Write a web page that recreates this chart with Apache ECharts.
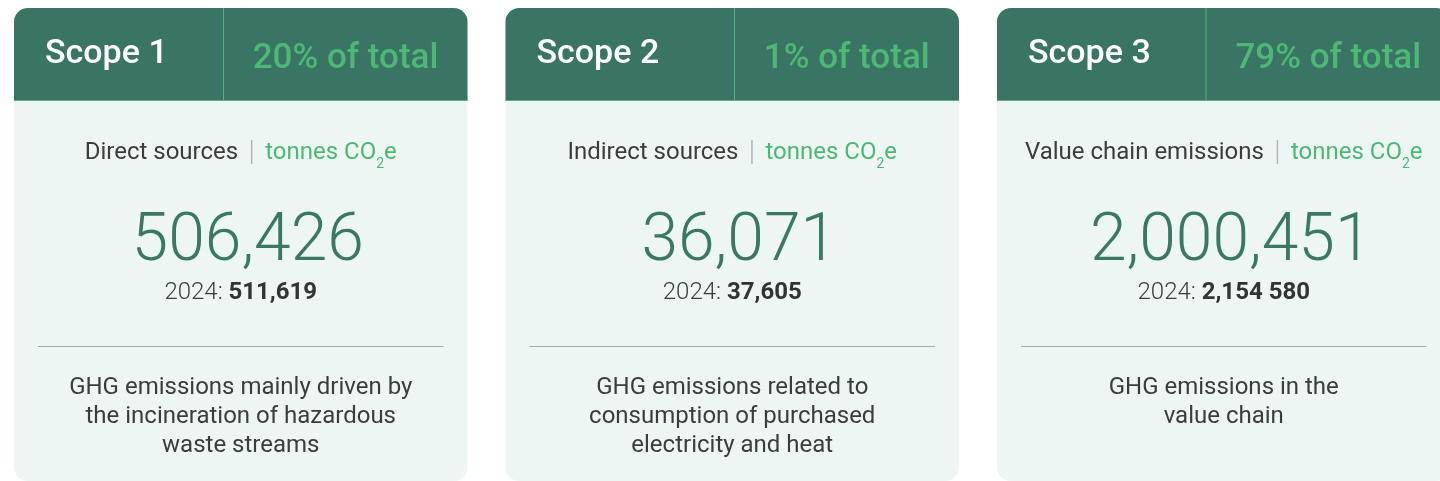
<!DOCTYPE html>
<html>
<head>
<meta charset="utf-8">
<script src="https://cdn.jsdelivr.net/npm/echarts@6/dist/echarts.min.js"></script>
<style>
  html, body { margin: 0; padding: 0; background: #fff; }
  #chart { width: 1440px; height: 481px; }
</style>
</head>
<body>
<div id="chart"></div>
<script>
  const scopeNames = ['Scope 1', 'Scope 2', 'Scope 3'];
  const shareOfTotal = [20, 1, 79];
  const sourceNames = ['Direct sources', 'Indirect sources', 'Value chain emissions'];
  const emissions2025 = [506426, 36071, 2000451];
  const emissions2024 = ['511,619', '37,605', '2,154 580'];
  const prevYear = 2024;
  const descriptions = [
    ['GHG emissions mainly driven by', 'the incineration of hazardous', 'waste streams'],
    ['GHG emissions related to', 'consumption of purchased', 'electricity and heat'],
    ['GHG emissions in the', 'value chain']
  ];

  const FONT = 'Roboto, "Noto Sans", sans-serif';
  const DARK_GREEN = '#3a7464';
  const LIGHT_GREEN = '#4db874';
  const BODY_BG = '#eef6f4';
  const TEXT = '#3c3c3c';

  const cardW = 453.5;
  const cardTop = 8;
  const cardH = 473;
  const headerH = 93;
  const headerSplit = [209.5, 229, 209];

  // measure text widths for the subtitle row
  const ctx = document.createElement('canvas').getContext('2d');
  function textWidth(str, font) {
    ctx.font = font;
    return ctx.measureText(str).width;
  }

  const chart = echarts.init(document.getElementById('chart'));
  const elements = [];

  scopeNames.forEach(function (name, i) {
    const x0 = 14 + i * 491.5;
    const cx = x0 + cardW / 2;
    const split = x0 + headerSplit[i];

    // card body
    elements.push({
      type: 'rect',
      shape: { x: x0, y: cardTop, width: cardW, height: cardH, r: 14 },
      style: { fill: BODY_BG }
    });
    // header
    elements.push({
      type: 'rect',
      shape: { x: x0, y: cardTop, width: cardW, height: headerH, r: [14, 14, 0, 0] },
      style: { fill: DARK_GREEN }
    });
    elements.push({
      type: 'line',
      shape: { x1: x0, y1: cardTop + headerH - 0.5, x2: x0 + cardW, y2: cardTop + headerH - 0.5 },
      style: { stroke: '#5fae82', lineWidth: 1 }
    });
    elements.push({
      type: 'line',
      shape: { x1: split, y1: cardTop, x2: split, y2: cardTop + headerH },
      style: { stroke: LIGHT_GREEN, lineWidth: 1 }
    });
    elements.push({
      type: 'text',
      style: {
        text: name, x: x0 + 31, y: 54, align: 'left', verticalAlign: 'middle',
        fill: '#ffffff', fontSize: 34, fontWeight: 500, fontFamily: FONT
      }
    });
    elements.push({
      type: 'text',
      style: {
        text: shareOfTotal[i] + '% of total', x: (split + x0 + cardW) / 2, y: 59,
        align: 'center', verticalAlign: 'middle',
        fill: LIGHT_GREEN, fontSize: 35, fontWeight: 500, fontFamily: FONT
      }
    });

    // subtitle row: name | tonnes CO2e
    const f24 = '400 24px ' + FONT;
    const f14 = '400 14px ' + FONT;
    const wName = textWidth(sourceNames[i], f24);
    const wUnit = textWidth('tonnes CO', f24);
    const wSub = textWidth('2', f14);
    const wE = textWidth('e', f24);
    const gap = 13;
    const total = wName + gap * 2 + 1 + wUnit + wSub + wE;
    let sx = cx - total / 2;
    const rowY = 152.5;
    elements.push({
      type: 'text',
      style: { text: sourceNames[i], x: sx, y: rowY, align: 'left', verticalAlign: 'middle', fill: TEXT, font: f24 }
    });
    sx += wName + gap;
    elements.push({
      type: 'line',
      shape: { x1: sx + 0.5, y1: 140, x2: sx + 0.5, y2: 164 },
      style: { stroke: '#b4b4b4', lineWidth: 1.5 }
    });
    sx += 1 + gap;
    elements.push({
      type: 'text',
      style: { text: 'tonnes CO', x: sx, y: rowY, align: 'left', verticalAlign: 'middle', fill: LIGHT_GREEN, font: f24 }
    });
    sx += wUnit;
    elements.push({
      type: 'text',
      style: { text: '2', x: sx, y: 164, align: 'left', verticalAlign: 'middle', fill: LIGHT_GREEN, font: f14 }
    });
    sx += wSub;
    elements.push({
      type: 'text',
      style: { text: 'e', x: sx, y: rowY, align: 'left', verticalAlign: 'middle', fill: LIGHT_GREEN, font: f24 }
    });

    // big value
    elements.push({
      type: 'text',
      style: {
        text: emissions2025[i].toLocaleString('en-US'), x: cx + 7, y: 243,
        align: 'center', verticalAlign: 'middle',
        fill: '#3a7866', fontSize: 66, fontWeight: 300, fontFamily: FONT
      }
    });
    // previous year
    elements.push({
      type: 'text',
      style: {
        text: '{a|' + prevYear + ': }{b|' + emissions2024[i] + '}',
        x: cx, y: 293, align: 'center', verticalAlign: 'middle',
        rich: {
          a: { fill: TEXT, fontSize: 24, fontWeight: 300, fontFamily: FONT },
          b: { fill: '#333333', fontSize: 24, fontWeight: 700, fontFamily: FONT }
        }
      }
    });
    // divider
    elements.push({
      type: 'line',
      shape: { x1: x0 + 24, y1: 346.5, x2: x0 + cardW - 24, y2: 346.5 },
      style: { stroke: '#a9a9a9', lineWidth: 1 }
    });
    // description
    elements.push({
      type: 'text',
      style: {
        text: descriptions[i].join('\n'), x: cx, y: 373.5,
        align: 'center', verticalAlign: 'top', lineHeight: 29,
        fill: TEXT, fontSize: 24, fontFamily: FONT
      }
    });
  });

  chart.setOption({
    animation: false,
    graphic: { elements: elements }
  });
</script>
</body>
</html>
